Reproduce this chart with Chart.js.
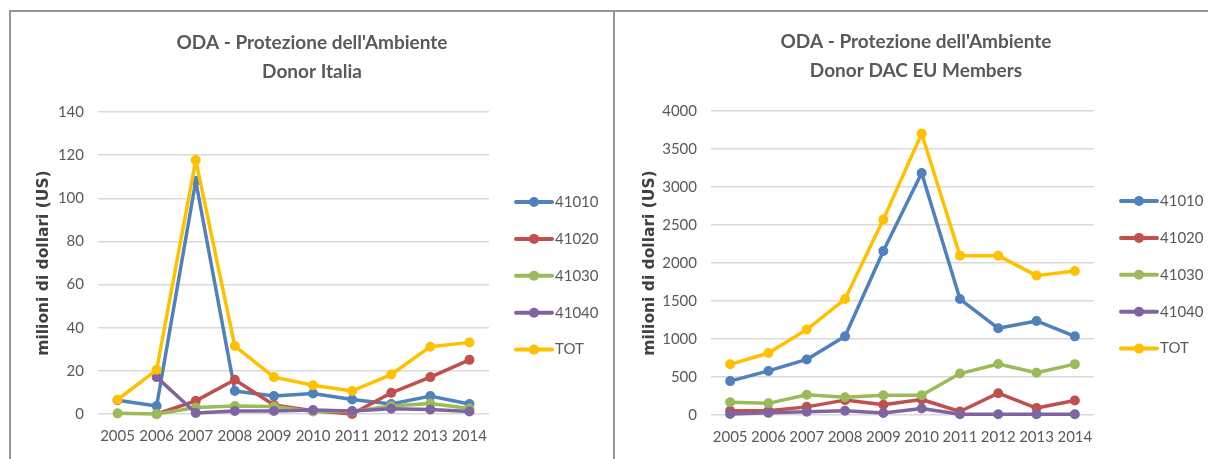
<!DOCTYPE html>
<html>
<head>
<meta charset="utf-8">
<script src="https://cdn.jsdelivr.net/npm/chart.js@4/dist/chart.umd.min.js"></script>
<style>
  html, body { margin: 0; padding: 0; background: #ffffff; }
  #page { position: relative; width: 1208px; height: 459px; overflow: hidden; background: #ffffff; }
  .frame { position: absolute; box-sizing: border-box; border-color: #969696; border-style: solid; }
  #frameLeft { left: 9px; top: 10px; width: 606px; height: 470px; border-width: 2px 2px 0 2px; }
  #frameRight { left: 613px; top: 10px; width: 620px; height: 470px; border-width: 2px 0 0 0; }
  canvas { position: absolute; }
  #chartItalia { left: 11px; top: 12px; }
  #chartEU { left: 615px; top: 12px; }
</style>
</head>
<body>
<div id="page">
  <div class="frame" id="frameLeft"></div>
  <div class="frame" id="frameRight"></div>
  <canvas id="chartItalia" width="602" height="447"></canvas>
  <canvas id="chartEU" width="602" height="447"></canvas>
</div>
<script>
// Years on the horizontal axis
const years = ['2005', '2006', '2007', '2008', '2009', '2010', '2011', '2012', '2013', '2014'];
const seriesLabels = ['41010', '41020', '41030', '41040', 'TOT'];
const seriesColors = ['#4F81BD', '#C0504D', '#9BBB59', '#8064A2', '#FFC000'];

// Donor Italia, milioni di dollari (US)
const italia41010 = [6.4, 3.7, 108, 10.7, 8.3, 9.5, 6.7, 4.6, 8.3, 4.6];
const italia41020 = [null, 0, 6.1, 15.9, 4.2, 1.5, 0, 9.8, 17.1, 25.1];
const italia41030 = [0.3, 0, 3.0, 3.7, 3.5, 1.2, 1.2, 3.7, 4.9, 2.5];
const italia41040 = [null, 17.1, 0.5, 1.4, 1.4, 1.8, 1.4, 2.4, 2.1, 1.2];
const italiaTOT   = [6.6, 20.5, 117.7, 31.5, 17.1, 13.3, 10.7, 18.3, 31.2, 33.2];

// Donor DAC EU Members, milioni di dollari (US)
const eu41010 = [446, 580, 731, 1035, 2158, 3184, 1526, 1141, 1237, 1035];
const eu41020 = [55, 55, 107, 196, 136, 204, 46, 287, 92, 190];
const eu41030 = [168, 153, 266, 234, 261, 261, 545, 671, 556, 669];
const eu41040 = [12, 28, 42, 56, 27, 85, 10, 10, 10, 10];
const euTOT   = [667, 816, 1124, 1526, 2571, 3703, 2097, 2097, 1834, 1895];

// Y axis ticks
const italiaTicks = { max: 140, step: 20 };
const euTicks = { max: 4000, step: 500 };

const chartTitle = "ODA - Protezione dell'Ambiente";
const axisTitle = 'milioni di dollari (US)';

const textGray = '#595959';
const gridGray = '#d9d9d9';

// Legend with line + marker samples, placed in its own layout box on the right
const lineLegend = {
  id: 'lineLegend',
  start(chart, args, opts) {
    const box = {
      position: 'right',
      weight: 0,
      fullSize: false,
      options: { stack: undefined, stackWeight: 1 },
      left: 0, top: 0, right: 0, bottom: 0, width: 0, height: 0,
      isHorizontal() { return false; },
      update(maxWidth, maxHeight) {
        this.width = chart.options.plugins.lineLegend.width;
        this.height = maxHeight;
      },
      getPadding() { return { left: 0, right: 0, top: 0, bottom: 0 }; },
      draw() {}
    };
    chart.$lineLegendBox = box;
    Chart.layouts.addBox(chart, box);
  },
  stop(chart) {
    if (chart.$lineLegendBox) Chart.layouts.removeBox(chart, chart.$lineLegendBox);
  },
  afterDraw(chart, args, opts) {
    const { ctx, chartArea } = chart;
    const x0 = chartArea.right + opts.offsetX;
    ctx.save();
    chart.data.datasets.forEach((ds, i) => {
      const y = chartArea.top + opts.offsetY + i * opts.spacing;
      ctx.strokeStyle = ds.borderColor;
      ctx.lineWidth = 4;
      ctx.lineCap = 'round';
      ctx.beginPath();
      ctx.moveTo(x0, y);
      ctx.lineTo(x0 + 36, y);
      ctx.stroke();
      ctx.fillStyle = ds.borderColor;
      ctx.beginPath();
      ctx.arc(x0 + 18, y, 5, 0, Math.PI * 2);
      ctx.fill();
      ctx.fillStyle = textGray;
      ctx.font = '15px Lato';
      ctx.textAlign = 'left';
      ctx.textBaseline = 'middle';
      ctx.fillText(ds.label, x0 + 39, y);
    });
    ctx.restore();
  }
};

function buildDatasets(seriesValues) {
  return seriesValues.map((values, i) => ({
    label: seriesLabels[i],
    data: values,
    borderColor: seriesColors[i],
    backgroundColor: seriesColors[i],
    pointBackgroundColor: seriesColors[i],
    pointBorderColor: seriesColors[i],
    borderWidth: 3.5,
    pointRadius: 4,
    pointBorderWidth: 2,
    borderJoinStyle: 'round',
    borderCapStyle: 'round',
    tension: 0,
    clip: false,
    order: seriesValues.length - i
  }));
}

function makeChart(canvasId, subtitle, seriesValues, ticks, layoutCfg) {
  return new Chart(document.getElementById(canvasId), {
    type: 'line',
    data: { labels: years, datasets: buildDatasets(seriesValues) },
    options: {
      responsive: false,
      animation: false,
      devicePixelRatio: 1,
      layout: { padding: 0 },
      plugins: {
        legend: { display: false },
        tooltip: { enabled: false },
        title: {
          display: true,
          text: [chartTitle, subtitle],
          color: textGray,
          font: { family: 'Lato', size: 19, weight: 'bold', lineHeight: '29px' },
          padding: { top: layoutCfg.titleTop, bottom: layoutCfg.titleBottom }
        },
        lineLegend: { width: layoutCfg.legendWidth, offsetX: 27, offsetY: 90, spacing: 36.9 }
      },
      scales: {
        x: {
          type: 'category',
          offset: true,
          grid: { display: false, drawTicks: false },
          border: { display: false },
          ticks: { color: textGray, font: { family: 'Lato', size: 15 }, padding: 13, maxRotation: 0, autoSkip: false },
          afterFit(scale) { scale.height = layoutCfg.xHeight; }
        },
        y: {
          min: 0,
          max: ticks.max,
          grid: { color: gridGray, lineWidth: 1.5, drawTicks: false },
          border: { display: false },
          ticks: {
            stepSize: ticks.step,
            color: textGray,
            font: { family: 'Lato', size: 15 },
            padding: 14,
            format: { useGrouping: false }
          },
          title: {
            display: true,
            text: axisTitle,
            color: '#404040',
            font: { family: 'DejaVu Sans', size: 15.5, weight: 'bold' },
            padding: { top: layoutCfg.axisTitlePad, bottom: 0 }
          },
          afterFit(scale) { scale.width = layoutCfg.yWidth; }
        }
      }
    },
    plugins: [lineLegend]
  });
}

makeChart('chartItalia', 'Donor Italia',
  [italia41010, italia41020, italia41030, italia41040, italiaTOT], italiaTicks,
  { legendWidth: 124, titleTop: 16, titleBottom: 26, xHeight: 45, yWidth: 87, axisTitlePad: 24 });

makeChart('chartEU', 'Donor DAC EU Members',
  [eu41010, eu41020, eu41030, eu41040, euTOT], euTicks,
  { legendWidth: 123, titleTop: 15, titleBottom: 26, xHeight: 44, yWidth: 96, axisTitlePad: 26 });
</script>
</body>
</html>
